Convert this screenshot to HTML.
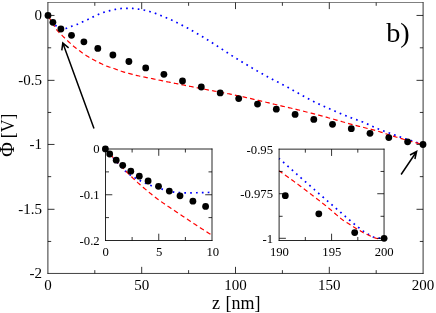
<!DOCTYPE html>
<html><head><meta charset="utf-8"><title>plot</title>
<style>
html,body{margin:0;padding:0;background:#fff;overflow:hidden;}
svg{display:block;opacity:0.999;will-change:transform;}
text{font-family:"Liberation Serif",serif;fill:#000;}
</style></head><body>
<svg width="436" height="313" viewBox="0 0 436 313">
<rect x="0" y="0" width="436" height="313" fill="#fff"/>

<path d="M47.90,15.45 L48.84,16.71 L49.78,17.96 L50.72,19.19 L51.66,20.41 L52.60,21.62 L53.54,22.83 L54.48,24.04 L55.42,25.13 L56.36,26.15 L57.30,27.08 L58.24,27.84 L59.18,28.41 L60.12,28.93 L61.06,29.26 L62.01,29.28 L62.95,29.17 L63.89,29.02 L64.83,28.81 L65.77,28.52 L66.71,28.20 L67.65,27.87 L68.59,27.52 L69.53,27.15 L70.47,26.77 L71.41,26.40 L72.35,26.04 L73.29,25.71 L74.23,25.38 L75.17,25.05 L76.11,24.71 L77.05,24.36 L77.99,23.98 L78.93,23.57 L79.87,23.13 L80.81,22.68 L81.75,22.23 L82.69,21.79 L83.63,21.37 L84.57,20.96 L85.51,20.55 L86.45,20.14 L87.39,19.72 L88.34,19.28 L89.28,18.82 L90.22,18.34 L91.16,17.84 L92.10,17.35 L93.04,16.88 L93.98,16.42 L94.92,15.98 L95.86,15.54 L96.80,15.12 L97.74,14.71 L98.68,14.31 L99.62,13.92 L100.56,13.54 L101.50,13.17 L102.44,12.81 L103.38,12.47 L104.32,12.16 L105.26,11.87 L106.20,11.60 L107.14,11.34 L108.08,11.09 L109.02,10.85 L109.96,10.61 L110.90,10.37 L111.84,10.14 L112.78,9.91 L113.72,9.70 L114.66,9.50 L115.61,9.32 L116.55,9.15 L117.49,8.99 L118.43,8.83 L119.37,8.70 L120.31,8.59 L121.25,8.51 L122.19,8.46 L123.13,8.41 L124.07,8.37 L125.01,8.34 L125.95,8.31 L126.89,8.30 L127.83,8.30 L128.77,8.32 L129.71,8.35 L130.65,8.38 L131.59,8.42 L132.53,8.47 L133.47,8.52 L134.41,8.60 L135.35,8.70 L136.29,8.82 L137.23,8.96 L138.17,9.09 L139.11,9.23 L140.05,9.37 L140.99,9.52 L141.94,9.68 L142.88,9.85 L143.82,10.04 L144.76,10.23 L145.70,10.45 L146.64,10.70 L147.58,10.96 L148.52,11.23 L149.46,11.51 L150.40,11.79 L151.34,12.07 L152.28,12.35 L153.22,12.64 L154.16,12.94 L155.10,13.26 L156.04,13.59 L156.98,13.93 L157.92,14.30 L158.86,14.68 L159.80,15.07 L160.74,15.45 L161.68,15.84 L162.62,16.23 L163.56,16.62 L164.50,17.01 L165.44,17.41 L166.38,17.81 L167.32,18.21 L168.26,18.61 L169.21,19.01 L170.15,19.42 L171.09,19.84 L172.03,20.27 L172.97,20.71 L173.91,21.16 L174.85,21.63 L175.79,22.10 L176.73,22.57 L177.67,23.03 L178.61,23.50 L179.55,23.96 L180.49,24.43 L181.43,24.91 L182.37,25.38 L183.31,25.87 L184.25,26.36 L185.19,26.85 L186.13,27.35 L187.07,27.86 L188.01,28.37 L188.95,28.89 L189.89,29.42 L190.83,29.94 L191.77,30.48 L192.71,31.01 L193.65,31.55 L194.59,32.09 L195.54,32.64 L196.48,33.18 L197.42,33.74 L198.36,34.29 L199.30,34.85 L200.24,35.40 L201.18,35.97 L202.12,36.53 L203.06,37.10 L204.00,37.66 L204.94,38.24 L205.88,38.81 L206.82,39.38 L207.76,39.96 L208.70,40.54 L209.64,41.13 L210.58,41.72 L211.52,42.32 L212.46,42.92 L213.40,43.52 L214.34,44.13 L215.28,44.75 L216.22,45.36 L217.16,45.98 L218.10,46.60 L219.04,47.22 L219.98,47.84 L220.92,48.46 L221.86,49.09 L222.81,49.71 L223.75,50.33 L224.69,50.95 L225.63,51.57 L226.57,52.19 L227.51,52.81 L228.45,53.42 L229.39,54.03 L230.33,54.64 L231.27,55.25 L232.21,55.85 L233.15,56.44 L234.09,57.03 L235.03,57.62 L235.97,58.20 L236.91,58.78 L237.85,59.36 L238.79,59.94 L239.73,60.52 L240.67,61.09 L241.61,61.67 L242.55,62.24 L243.49,62.81 L244.43,63.38 L245.37,63.95 L246.31,64.51 L247.25,65.08 L248.19,65.64 L249.14,66.20 L250.08,66.76 L251.02,67.32 L251.96,67.87 L252.90,68.43 L253.84,68.98 L254.78,69.53 L255.72,70.07 L256.66,70.62 L257.60,71.16 L258.54,71.70 L259.48,72.24 L260.42,72.77 L261.36,73.30 L262.30,73.83 L263.24,74.36 L264.18,74.88 L265.12,75.40 L266.06,75.91 L267.00,76.42 L267.94,76.93 L268.88,77.43 L269.82,77.93 L270.76,78.42 L271.70,78.92 L272.64,79.41 L273.58,79.90 L274.52,80.39 L275.46,80.88 L276.41,81.37 L277.35,81.86 L278.29,82.35 L279.23,82.84 L280.17,83.32 L281.11,83.81 L282.05,84.31 L282.99,84.80 L283.93,85.29 L284.87,85.79 L285.81,86.29 L286.75,86.79 L287.69,87.29 L288.63,87.80 L289.57,88.31 L290.51,88.83 L291.45,89.35 L292.39,89.87 L293.33,90.40 L294.27,90.94 L295.21,91.47 L296.15,92.01 L297.09,92.55 L298.03,93.08 L298.97,93.62 L299.91,94.15 L300.85,94.68 L301.79,95.20 L302.74,95.71 L303.68,96.22 L304.62,96.73 L305.56,97.24 L306.50,97.74 L307.44,98.25 L308.38,98.75 L309.32,99.25 L310.26,99.74 L311.20,100.23 L312.14,100.72 L313.08,101.20 L314.02,101.67 L314.96,102.14 L315.90,102.60 L316.84,103.06 L317.78,103.51 L318.72,103.95 L319.66,104.39 L320.60,104.82 L321.54,105.25 L322.48,105.67 L323.42,106.10 L324.36,106.52 L325.30,106.93 L326.24,107.35 L327.18,107.76 L328.12,108.17 L329.06,108.58 L330.01,108.99 L330.95,109.40 L331.89,109.81 L332.83,110.22 L333.77,110.63 L334.71,111.04 L335.65,111.44 L336.59,111.85 L337.53,112.26 L338.47,112.66 L339.41,113.07 L340.35,113.47 L341.29,113.87 L342.23,114.26 L343.17,114.66 L344.11,115.05 L345.05,115.43 L345.99,115.82 L346.93,116.20 L347.87,116.57 L348.81,116.94 L349.75,117.30 L350.69,117.65 L351.63,117.99 L352.57,118.33 L353.51,118.67 L354.45,119.00 L355.39,119.33 L356.34,119.66 L357.28,120.00 L358.22,120.33 L359.16,120.67 L360.10,121.01 L361.04,121.36 L361.98,121.72 L362.92,122.08 L363.86,122.46 L364.80,122.85 L365.74,123.26 L366.68,123.68 L367.62,124.11 L368.56,124.56 L369.50,125.00 L370.44,125.45 L371.38,125.90 L372.32,126.35 L373.26,126.79 L374.20,127.22 L375.14,127.63 L376.08,128.03 L377.02,128.42 L377.96,128.80 L378.90,129.18 L379.84,129.55 L380.78,129.92 L381.72,130.28 L382.66,130.64 L383.61,130.99 L384.55,131.34 L385.49,131.69 L386.43,132.04 L387.37,132.38 L388.31,132.72 L389.25,133.07 L390.19,133.41 L391.13,133.75 L392.07,134.09 L393.01,134.43 L393.95,134.77 L394.89,135.10 L395.83,135.44 L396.77,135.77 L397.71,136.11 L398.65,136.44 L399.59,136.77 L400.53,137.09 L401.47,137.42 L402.41,137.74 L403.35,138.07 L404.29,138.39 L405.23,138.71 L406.17,139.02 L407.11,139.34 L408.05,139.65 L408.99,139.96 L409.94,140.27 L410.88,140.58 L411.82,140.89 L412.76,141.20 L413.70,141.50 L414.64,141.80 L415.58,142.10 L416.52,142.40 L417.46,142.70 L418.40,143.00 L419.34,143.29 L420.28,143.58 L421.22,143.87 L422.16,144.16 L423.10,144.45" stroke="#0000ff" stroke-width="1.7" stroke-dasharray="1.7 4.15" stroke-dashoffset="-0.5" fill="none"/>
<path d="M47.90,15.45 L48.84,17.06 L49.78,18.65 L50.72,20.21 L51.66,21.75 L52.60,23.28 L53.54,24.85 L54.48,26.40 L55.42,27.89 L56.36,29.29 L57.30,30.53 L58.24,31.64 L59.18,32.66 L60.12,33.61 L61.06,34.53 L62.01,35.43 L62.95,36.35 L63.89,37.27 L64.83,38.18 L65.77,39.07 L66.71,39.95 L67.65,40.83 L68.59,41.70 L69.53,42.57 L70.47,43.43 L71.41,44.30 L72.35,45.15 L73.29,45.98 L74.23,46.78 L75.17,47.54 L76.11,48.28 L77.05,48.99 L77.99,49.69 L78.93,50.39 L79.87,51.08 L80.81,51.77 L81.75,52.46 L82.69,53.13 L83.63,53.77 L84.57,54.41 L85.51,55.04 L86.45,55.65 L87.39,56.25 L88.34,56.83 L89.28,57.40 L90.22,57.95 L91.16,58.48 L92.10,59.01 L93.04,59.51 L93.98,60.00 L94.92,60.49 L95.86,60.97 L96.80,61.45 L97.74,61.95 L98.68,62.44 L99.62,62.91 L100.56,63.37 L101.50,63.83 L102.44,64.28 L103.38,64.73 L104.32,65.15 L105.26,65.56 L106.20,65.94 L107.14,66.29 L108.08,66.63 L109.02,66.95 L109.96,67.25 L110.90,67.56 L111.84,67.85 L112.78,68.16 L113.72,68.47 L114.66,68.79 L115.61,69.13 L116.55,69.48 L117.49,69.83 L118.43,70.19 L119.37,70.55 L120.31,70.89 L121.25,71.22 L122.19,71.53 L123.13,71.82 L124.07,72.10 L125.01,72.38 L125.95,72.66 L126.89,72.93 L127.83,73.19 L128.77,73.45 L129.71,73.70 L130.65,73.95 L131.59,74.19 L132.53,74.43 L133.47,74.66 L134.41,74.90 L135.35,75.13 L136.29,75.35 L137.23,75.57 L138.17,75.79 L139.11,76.01 L140.05,76.22 L140.99,76.43 L141.94,76.63 L142.88,76.83 L143.82,77.02 L144.76,77.21 L145.70,77.40 L146.64,77.59 L147.58,77.78 L148.52,77.96 L149.46,78.15 L150.40,78.34 L151.34,78.52 L152.28,78.71 L153.22,78.90 L154.16,79.09 L155.10,79.28 L156.04,79.48 L156.98,79.67 L157.92,79.86 L158.86,80.06 L159.80,80.25 L160.74,80.44 L161.68,80.63 L162.62,80.83 L163.56,81.02 L164.50,81.21 L165.44,81.40 L166.38,81.59 L167.32,81.79 L168.26,81.98 L169.21,82.17 L170.15,82.36 L171.09,82.55 L172.03,82.74 L172.97,82.93 L173.91,83.12 L174.85,83.31 L175.79,83.50 L176.73,83.69 L177.67,83.88 L178.61,84.07 L179.55,84.26 L180.49,84.45 L181.43,84.64 L182.37,84.83 L183.31,85.02 L184.25,85.21 L185.19,85.40 L186.13,85.59 L187.07,85.78 L188.01,85.96 L188.95,86.15 L189.89,86.34 L190.83,86.53 L191.77,86.71 L192.71,86.90 L193.65,87.09 L194.59,87.28 L195.54,87.46 L196.48,87.65 L197.42,87.84 L198.36,88.02 L199.30,88.21 L200.24,88.40 L201.18,88.58 L202.12,88.77 L203.06,88.95 L204.00,89.14 L204.94,89.32 L205.88,89.50 L206.82,89.69 L207.76,89.87 L208.70,90.05 L209.64,90.23 L210.58,90.41 L211.52,90.59 L212.46,90.76 L213.40,90.94 L214.34,91.11 L215.28,91.28 L216.22,91.45 L217.16,91.62 L218.10,91.80 L219.04,91.97 L219.98,92.14 L220.92,92.31 L221.86,92.48 L222.81,92.66 L223.75,92.83 L224.69,93.01 L225.63,93.19 L226.57,93.38 L227.51,93.56 L228.45,93.75 L229.39,93.94 L230.33,94.13 L231.27,94.32 L232.21,94.52 L233.15,94.71 L234.09,94.91 L235.03,95.11 L235.97,95.31 L236.91,95.51 L237.85,95.71 L238.79,95.91 L239.73,96.12 L240.67,96.32 L241.61,96.53 L242.55,96.73 L243.49,96.94 L244.43,97.15 L245.37,97.36 L246.31,97.58 L247.25,97.79 L248.19,98.01 L249.14,98.23 L250.08,98.45 L251.02,98.67 L251.96,98.89 L252.90,99.11 L253.84,99.33 L254.78,99.55 L255.72,99.78 L256.66,100.00 L257.60,100.22 L258.54,100.45 L259.48,100.67 L260.42,100.90 L261.36,101.12 L262.30,101.34 L263.24,101.57 L264.18,101.79 L265.12,102.02 L266.06,102.24 L267.00,102.47 L267.94,102.70 L268.88,102.92 L269.82,103.15 L270.76,103.38 L271.70,103.61 L272.64,103.83 L273.58,104.06 L274.52,104.29 L275.46,104.52 L276.41,104.74 L277.35,104.97 L278.29,105.19 L279.23,105.42 L280.17,105.64 L281.11,105.86 L282.05,106.08 L282.99,106.30 L283.93,106.52 L284.87,106.73 L285.81,106.95 L286.75,107.17 L287.69,107.38 L288.63,107.60 L289.57,107.81 L290.51,108.03 L291.45,108.25 L292.39,108.47 L293.33,108.69 L294.27,108.91 L295.21,109.13 L296.15,109.35 L297.09,109.58 L298.03,109.81 L298.97,110.04 L299.91,110.28 L300.85,110.51 L301.79,110.75 L302.74,110.99 L303.68,111.23 L304.62,111.47 L305.56,111.72 L306.50,111.96 L307.44,112.21 L308.38,112.46 L309.32,112.70 L310.26,112.95 L311.20,113.20 L312.14,113.45 L313.08,113.70 L314.02,113.95 L314.96,114.20 L315.90,114.45 L316.84,114.70 L317.78,114.94 L318.72,115.19 L319.66,115.44 L320.60,115.69 L321.54,115.94 L322.48,116.19 L323.42,116.44 L324.36,116.70 L325.30,116.95 L326.24,117.20 L327.18,117.45 L328.12,117.71 L329.06,117.97 L330.01,118.22 L330.95,118.48 L331.89,118.74 L332.83,119.00 L333.77,119.27 L334.71,119.53 L335.65,119.80 L336.59,120.07 L337.53,120.34 L338.47,120.62 L339.41,120.89 L340.35,121.16 L341.29,121.44 L342.23,121.71 L343.17,121.98 L344.11,122.25 L345.05,122.52 L345.99,122.79 L346.93,123.05 L347.87,123.31 L348.81,123.57 L349.75,123.82 L350.69,124.08 L351.63,124.33 L352.57,124.58 L353.51,124.83 L354.45,125.07 L355.39,125.32 L356.34,125.57 L357.28,125.81 L358.22,126.06 L359.16,126.30 L360.10,126.54 L361.04,126.78 L361.98,127.03 L362.92,127.27 L363.86,127.51 L364.80,127.75 L365.74,127.99 L366.68,128.22 L367.62,128.46 L368.56,128.69 L369.50,128.92 L370.44,129.15 L371.38,129.38 L372.32,129.62 L373.26,129.86 L374.20,130.11 L375.14,130.36 L376.08,130.62 L377.02,130.90 L377.96,131.18 L378.90,131.46 L379.84,131.76 L380.78,132.06 L381.72,132.37 L382.66,132.68 L383.61,133.00 L384.55,133.31 L385.49,133.63 L386.43,133.95 L387.37,134.26 L388.31,134.58 L389.25,134.89 L390.19,135.19 L391.13,135.49 L392.07,135.79 L393.01,136.08 L393.95,136.37 L394.89,136.66 L395.83,136.95 L396.77,137.24 L397.71,137.53 L398.65,137.81 L399.59,138.10 L400.53,138.38 L401.47,138.66 L402.41,138.94 L403.35,139.22 L404.29,139.49 L405.23,139.76 L406.17,140.03 L407.11,140.30 L408.05,140.56 L408.99,140.82 L409.94,141.08 L410.88,141.33 L411.82,141.58 L412.76,141.84 L413.70,142.08 L414.64,142.33 L415.58,142.58 L416.52,142.82 L417.46,143.06 L418.40,143.30 L419.34,143.53 L420.28,143.76 L421.22,144.00 L422.16,144.22 L423.10,144.45" stroke="#ff0000" stroke-width="1.2" stroke-dasharray="4.66 3.12" stroke-dashoffset="-0.7" fill="none"/>
<path d="M47.9,2.25 V273.825" stroke="#000" stroke-width="0.8"/><path d="M423.1,2.25 V273.825" stroke="#000" stroke-width="0.8"/><path d="M47.5,2.5 H423.5" stroke="#000" stroke-width="0.5"/><path d="M47.5,273.45 H423.5" stroke="#000" stroke-width="0.75"/>
<path d="M141.70,273.45 v-6.6 M141.70,2.5 v6.6 M235.50,273.45 v-6.6 M235.50,2.5 v6.6 M329.30,273.45 v-6.6 M329.30,2.5 v6.6 M94.80,273.45 v-3.3 M94.80,2.5 v3.3 M188.60,273.45 v-3.3 M188.60,2.5 v3.3 M282.40,273.45 v-3.3 M282.40,2.5 v3.3 M376.20,273.45 v-3.3 M376.20,2.5 v3.3 M47.9,15.45 h6.6 M423.1,15.45 h-6.6 M47.9,80.35 h6.6 M423.1,80.35 h-6.6 M47.9,144.45 h6.6 M423.1,144.45 h-6.6 M47.9,209.30 h6.6 M423.1,209.30 h-6.6 M47.9,47.80 h3.3 M423.1,47.80 h-3.3 M47.9,112.45 h3.3 M423.1,112.45 h-3.3 M47.9,176.65 h3.3 M423.1,176.65 h-3.3 M47.9,241.45 h3.3 M423.1,241.45 h-3.3" stroke="#000" stroke-width="0.8" fill="none"/>
<circle cx="48.0" cy="15.4" r="3.4" fill="#000"/>
<circle cx="52.9" cy="22.3" r="3.4" fill="#000"/>
<circle cx="60.9" cy="29.0" r="3.4" fill="#000"/>
<circle cx="71.5" cy="35.3" r="3.4" fill="#000"/>
<circle cx="83.9" cy="41.8" r="3.4" fill="#000"/>
<circle cx="97.8" cy="48.4" r="3.4" fill="#000"/>
<circle cx="112.9" cy="55.0" r="3.4" fill="#000"/>
<circle cx="128.9" cy="61.5" r="3.4" fill="#000"/>
<circle cx="145.7" cy="67.9" r="3.4" fill="#000"/>
<circle cx="163.9" cy="74.3" r="3.4" fill="#000"/>
<circle cx="182.5" cy="81.0" r="3.4" fill="#000"/>
<circle cx="201.3" cy="87.0" r="3.4" fill="#000"/>
<circle cx="220.2" cy="92.9" r="3.4" fill="#000"/>
<circle cx="238.7" cy="98.6" r="3.4" fill="#000"/>
<circle cx="257.5" cy="104.1" r="3.4" fill="#000"/>
<circle cx="276.3" cy="109.2" r="3.4" fill="#000"/>
<circle cx="295.1" cy="114.4" r="3.4" fill="#000"/>
<circle cx="313.8" cy="119.4" r="3.4" fill="#000"/>
<circle cx="332.5" cy="124.3" r="3.4" fill="#000"/>
<circle cx="351.3" cy="128.7" r="3.4" fill="#000"/>
<circle cx="370.0" cy="133.3" r="3.4" fill="#000"/>
<circle cx="388.8" cy="137.6" r="3.4" fill="#000"/>
<circle cx="407.6" cy="141.8" r="3.4" fill="#000"/>
<circle cx="423.0" cy="144.5" r="3.4" fill="#000"/>
<rect x="105.5" y="149.0" width="106.5" height="91.5" fill="#fff" stroke="none"/>
<path d="M105.70,148.80 L106.24,149.48 L106.78,150.16 L107.31,150.83 L107.85,151.50 L108.39,152.17 L108.93,152.83 L109.47,153.49 L110.01,154.14 L110.54,154.79 L111.08,155.44 L111.62,156.08 L112.16,156.71 L112.70,157.35 L113.23,157.97 L113.77,158.60 L114.31,159.21 L114.85,159.83 L115.39,160.44 L115.93,161.05 L116.46,161.66 L117.00,162.28 L117.54,162.89 L118.08,163.49 L118.62,164.10 L119.15,164.70 L119.69,165.29 L120.23,165.88 L120.77,166.46 L121.31,167.04 L121.85,167.60 L122.38,168.16 L122.92,168.71 L123.46,169.24 L124.00,169.76 L124.54,170.27 L125.07,170.77 L125.61,171.25 L126.15,171.72 L126.69,172.19 L127.23,172.64 L127.77,173.08 L128.30,173.51 L128.84,173.93 L129.38,174.33 L129.92,174.73 L130.46,175.11 L130.99,175.48 L131.53,175.84 L132.07,176.19 L132.61,176.53 L133.15,176.86 L133.69,177.18 L134.22,177.50 L134.76,177.81 L135.30,178.11 L135.84,178.41 L136.38,178.71 L136.92,178.99 L137.45,179.27 L137.99,179.55 L138.53,179.82 L139.07,180.09 L139.61,180.36 L140.14,180.62 L140.68,180.89 L141.22,181.15 L141.76,181.42 L142.30,181.68 L142.84,181.94 L143.37,182.20 L143.91,182.47 L144.45,182.72 L144.99,182.98 L145.53,183.23 L146.06,183.49 L146.60,183.73 L147.14,183.98 L147.68,184.22 L148.22,184.45 L148.76,184.68 L149.29,184.90 L149.83,185.12 L150.37,185.33 L150.91,185.54 L151.45,185.74 L151.98,185.94 L152.52,186.13 L153.06,186.32 L153.60,186.51 L154.14,186.69 L154.68,186.87 L155.21,187.04 L155.75,187.22 L156.29,187.39 L156.83,187.56 L157.37,187.73 L157.90,187.89 L158.44,188.06 L158.98,188.22 L159.52,188.38 L160.06,188.54 L160.60,188.70 L161.13,188.86 L161.67,189.02 L162.21,189.17 L162.75,189.33 L163.29,189.49 L163.82,189.65 L164.36,189.81 L164.90,189.97 L165.44,190.12 L165.98,190.27 L166.52,190.43 L167.05,190.57 L167.59,190.72 L168.13,190.86 L168.67,190.99 L169.21,191.12 L169.74,191.24 L170.28,191.36 L170.82,191.48 L171.36,191.60 L171.90,191.72 L172.44,191.84 L172.97,191.95 L173.51,192.06 L174.05,192.15 L174.59,192.24 L175.13,192.31 L175.66,192.37 L176.20,192.42 L176.74,192.45 L177.28,192.49 L177.82,192.53 L178.36,192.56 L178.89,192.60 L179.43,192.63 L179.97,192.66 L180.51,192.68 L181.05,192.71 L181.58,192.73 L182.12,192.75 L182.66,192.77 L183.20,192.78 L183.74,192.79 L184.28,192.80 L184.81,192.80 L185.35,192.80 L185.89,192.80 L186.43,192.80 L186.97,192.80 L187.51,192.80 L188.04,192.79 L188.58,192.79 L189.12,192.79 L189.66,192.79 L190.20,192.79 L190.73,192.78 L191.27,192.78 L191.81,192.78 L192.35,192.77 L192.89,192.77 L193.43,192.76 L193.96,192.76 L194.50,192.76 L195.04,192.75 L195.58,192.75 L196.12,192.74 L196.65,192.74 L197.19,192.73 L197.73,192.72 L198.27,192.72 L198.81,192.71 L199.35,192.71 L199.88,192.70 L200.42,192.69 L200.96,192.69 L201.50,192.68 L202.04,192.67 L202.57,192.66 L203.11,192.64 L203.65,192.63 L204.19,192.62 L204.73,192.60 L205.27,192.59 L205.80,192.57 L206.34,192.55 L206.88,192.53 L207.42,192.51 L207.96,192.50 L208.49,192.48 L209.03,192.45 L209.57,192.43 L210.11,192.41 L210.65,192.39 L211.19,192.37 L211.72,192.35 L212.26,192.32 L212.80,192.30" stroke="#0000ff" stroke-width="1.7" stroke-dasharray="1.7 4.15" stroke-dashoffset="0" fill="none"/>
<path d="M105.70,148.80 L106.24,149.46 L106.78,150.12 L107.31,150.78 L107.85,151.43 L108.39,152.08 L108.93,152.73 L109.47,153.37 L110.01,154.00 L110.54,154.64 L111.08,155.26 L111.62,155.88 L112.16,156.49 L112.70,157.10 L113.23,157.71 L113.77,158.32 L114.31,158.92 L114.85,159.52 L115.39,160.11 L115.93,160.71 L116.46,161.30 L117.00,161.88 L117.54,162.47 L118.08,163.05 L118.62,163.63 L119.15,164.21 L119.69,164.78 L120.23,165.35 L120.77,165.92 L121.31,166.49 L121.85,167.05 L122.38,167.61 L122.92,168.17 L123.46,168.72 L124.00,169.28 L124.54,169.83 L125.07,170.38 L125.61,170.92 L126.15,171.47 L126.69,172.01 L127.23,172.55 L127.77,173.08 L128.30,173.62 L128.84,174.15 L129.38,174.68 L129.92,175.21 L130.46,175.74 L130.99,176.26 L131.53,176.78 L132.07,177.30 L132.61,177.82 L133.15,178.33 L133.69,178.84 L134.22,179.35 L134.76,179.85 L135.30,180.36 L135.84,180.86 L136.38,181.35 L136.92,181.85 L137.45,182.34 L137.99,182.83 L138.53,183.32 L139.07,183.80 L139.61,184.28 L140.14,184.75 L140.68,185.22 L141.22,185.69 L141.76,186.16 L142.30,186.62 L142.84,187.08 L143.37,187.54 L143.91,187.99 L144.45,188.45 L144.99,188.90 L145.53,189.35 L146.06,189.80 L146.60,190.24 L147.14,190.69 L147.68,191.13 L148.22,191.58 L148.76,192.02 L149.29,192.47 L149.83,192.91 L150.37,193.36 L150.91,193.80 L151.45,194.24 L151.98,194.68 L152.52,195.11 L153.06,195.55 L153.60,195.98 L154.14,196.41 L154.68,196.84 L155.21,197.26 L155.75,197.67 L156.29,198.09 L156.83,198.50 L157.37,198.90 L157.90,199.30 L158.44,199.69 L158.98,200.09 L159.52,200.48 L160.06,200.86 L160.60,201.24 L161.13,201.62 L161.67,202.00 L162.21,202.37 L162.75,202.75 L163.29,203.12 L163.82,203.48 L164.36,203.85 L164.90,204.22 L165.44,204.58 L165.98,204.94 L166.52,205.30 L167.05,205.66 L167.59,206.02 L168.13,206.38 L168.67,206.74 L169.21,207.10 L169.74,207.45 L170.28,207.81 L170.82,208.17 L171.36,208.53 L171.90,208.89 L172.44,209.25 L172.97,209.61 L173.51,209.97 L174.05,210.33 L174.59,210.70 L175.13,211.06 L175.66,211.43 L176.20,211.79 L176.74,212.15 L177.28,212.51 L177.82,212.88 L178.36,213.24 L178.89,213.60 L179.43,213.97 L179.97,214.33 L180.51,214.69 L181.05,215.05 L181.58,215.41 L182.12,215.77 L182.66,216.14 L183.20,216.50 L183.74,216.86 L184.28,217.22 L184.81,217.58 L185.35,217.94 L185.89,218.30 L186.43,218.66 L186.97,219.01 L187.51,219.37 L188.04,219.73 L188.58,220.09 L189.12,220.45 L189.66,220.80 L190.20,221.16 L190.73,221.52 L191.27,221.88 L191.81,222.23 L192.35,222.59 L192.89,222.94 L193.43,223.30 L193.96,223.65 L194.50,224.01 L195.04,224.36 L195.58,224.71 L196.12,225.07 L196.65,225.42 L197.19,225.77 L197.73,226.12 L198.27,226.48 L198.81,226.83 L199.35,227.18 L199.88,227.53 L200.42,227.88 L200.96,228.23 L201.50,228.57 L202.04,228.92 L202.57,229.27 L203.11,229.62 L203.65,229.96 L204.19,230.31 L204.73,230.66 L205.27,231.00 L205.80,231.35 L206.34,231.69 L206.88,232.04 L207.42,232.38 L207.96,232.72 L208.49,233.07 L209.03,233.41 L209.57,233.75 L210.11,234.09 L210.65,234.44 L211.19,234.78 L211.72,235.12 L212.26,235.46 L212.80,235.80" stroke="#ff0000" stroke-width="1.2" stroke-dasharray="4.66 3.12" stroke-dashoffset="1.0" fill="none"/>
<path d="M105.5,148.575 V240.925" stroke="#000" stroke-width="0.85"/><path d="M212.0,148.575 V240.925" stroke="#000" stroke-width="0.85"/><path d="M105.075,149.0 H212.425" stroke="#000" stroke-width="0.85"/><path d="M105.075,240.5 H212.425" stroke="#000" stroke-width="0.85"/>
<path d="M158.75,240.5 v-6.8 M158.75,149.0 v6.8 M132.12,240.5 v-3.5 M132.12,149.0 v3.5 M185.38,240.5 v-3.5 M185.38,149.0 v3.5 M105.5,194.75 h6.8 M212.0,194.75 h-6.8 M105.5,171.88 h3.5 M212.0,171.88 h-3.5 M105.5,217.62 h3.5 M212.0,217.62 h-3.5" stroke="#000" stroke-width="0.8" fill="none"/>
<circle cx="105.4" cy="148.9" r="3.4" fill="#000"/>
<circle cx="109.7" cy="154.0" r="3.4" fill="#000"/>
<circle cx="116.2" cy="160.2" r="3.4" fill="#000"/>
<circle cx="122.7" cy="165.3" r="3.4" fill="#000"/>
<circle cx="130.8" cy="171.2" r="3.4" fill="#000"/>
<circle cx="139.3" cy="176.2" r="3.4" fill="#000"/>
<circle cx="148.1" cy="181.0" r="3.4" fill="#000"/>
<circle cx="158.5" cy="186.3" r="3.4" fill="#000"/>
<circle cx="169.3" cy="191.1" r="3.4" fill="#000"/>
<circle cx="180.0" cy="195.8" r="3.4" fill="#000"/>
<circle cx="192.9" cy="201.2" r="3.4" fill="#000"/>
<circle cx="205.6" cy="206.4" r="3.4" fill="#000"/>
<rect x="279.1" y="149.15" width="104.94999999999999" height="91.35" fill="#fff" stroke="none"/>
<path d="M279.10,158.50 L279.63,158.97 L280.15,159.44 L280.68,159.91 L281.21,160.38 L281.74,160.85 L282.26,161.32 L282.79,161.79 L283.32,162.25 L283.85,162.72 L284.37,163.19 L284.90,163.66 L285.43,164.13 L285.96,164.60 L286.48,165.06 L287.01,165.53 L287.54,166.00 L288.07,166.47 L288.59,166.93 L289.12,167.40 L289.65,167.87 L290.18,168.33 L290.70,168.80 L291.23,169.26 L291.76,169.73 L292.28,170.20 L292.81,170.66 L293.34,171.13 L293.87,171.59 L294.39,172.06 L294.92,172.52 L295.45,172.99 L295.98,173.45 L296.50,173.92 L297.03,174.38 L297.56,174.85 L298.09,175.31 L298.61,175.78 L299.14,176.24 L299.67,176.70 L300.20,177.17 L300.72,177.63 L301.25,178.09 L301.78,178.56 L302.31,179.02 L302.83,179.48 L303.36,179.95 L303.89,180.41 L304.41,180.87 L304.94,181.34 L305.47,181.80 L306.00,182.26 L306.52,182.72 L307.05,183.19 L307.58,183.65 L308.11,184.11 L308.63,184.57 L309.16,185.03 L309.69,185.49 L310.22,185.96 L310.74,186.42 L311.27,186.88 L311.80,187.34 L312.33,187.80 L312.85,188.26 L313.38,188.72 L313.91,189.18 L314.43,189.64 L314.96,190.10 L315.49,190.57 L316.02,191.03 L316.54,191.49 L317.07,191.95 L317.60,192.41 L318.13,192.87 L318.65,193.33 L319.18,193.79 L319.71,194.25 L320.24,194.71 L320.76,195.17 L321.29,195.62 L321.82,196.08 L322.35,196.54 L322.87,197.00 L323.40,197.45 L323.93,197.91 L324.46,198.37 L324.98,198.82 L325.51,199.28 L326.04,199.74 L326.56,200.19 L327.09,200.65 L327.62,201.10 L328.15,201.56 L328.67,202.02 L329.20,202.47 L329.73,202.93 L330.26,203.38 L330.78,203.84 L331.31,204.30 L331.84,204.75 L332.37,205.21 L332.89,205.67 L333.42,206.12 L333.95,206.58 L334.48,207.04 L335.00,207.49 L335.53,207.95 L336.06,208.41 L336.59,208.86 L337.11,209.32 L337.64,209.78 L338.17,210.23 L338.69,210.69 L339.22,211.14 L339.75,211.60 L340.28,212.06 L340.80,212.51 L341.33,212.97 L341.86,213.42 L342.39,213.87 L342.91,214.33 L343.44,214.79 L343.97,215.24 L344.50,215.70 L345.02,216.16 L345.55,216.61 L346.08,217.07 L346.61,217.53 L347.13,217.99 L347.66,218.44 L348.19,218.90 L348.72,219.35 L349.24,219.81 L349.77,220.26 L350.30,220.71 L350.82,221.16 L351.35,221.61 L351.88,222.05 L352.41,222.49 L352.93,222.93 L353.46,223.37 L353.99,223.80 L354.52,224.23 L355.04,224.66 L355.57,225.08 L356.10,225.50 L356.63,225.92 L357.15,226.34 L357.68,226.76 L358.21,227.18 L358.74,227.59 L359.26,228.01 L359.79,228.43 L360.32,228.85 L360.84,229.28 L361.37,229.70 L361.90,230.12 L362.43,230.53 L362.95,230.93 L363.48,231.31 L364.01,231.67 L364.54,232.03 L365.06,232.37 L365.59,232.71 L366.12,233.03 L366.65,233.35 L367.17,233.67 L367.70,233.97 L368.23,234.27 L368.76,234.57 L369.28,234.86 L369.81,235.16 L370.34,235.47 L370.87,235.78 L371.39,236.07 L371.92,236.36 L372.45,236.62 L372.97,236.86 L373.50,237.05 L374.03,237.21 L374.56,237.34 L375.08,237.46 L375.61,237.58 L376.14,237.70 L376.67,237.80 L377.19,237.89 L377.72,237.98 L378.25,238.05 L378.78,238.11 L379.30,238.16 L379.83,238.19 L380.36,238.21 L380.89,238.23 L381.41,238.25 L381.94,238.27 L382.47,238.28 L383.00,238.29 L383.52,238.30 L384.05,238.30" stroke="#0000ff" stroke-width="1.7" stroke-dasharray="1.7 4.15" stroke-dashoffset="0.6" fill="none"/>
<path d="M279.10,170.80 L279.63,171.17 L280.15,171.54 L280.68,171.90 L281.21,172.27 L281.74,172.65 L282.26,173.02 L282.79,173.39 L283.32,173.76 L283.85,174.14 L284.37,174.51 L284.90,174.89 L285.43,175.26 L285.96,175.64 L286.48,176.02 L287.01,176.39 L287.54,176.77 L288.07,177.15 L288.59,177.53 L289.12,177.91 L289.65,178.29 L290.18,178.68 L290.70,179.06 L291.23,179.44 L291.76,179.83 L292.28,180.21 L292.81,180.60 L293.34,180.99 L293.87,181.37 L294.39,181.76 L294.92,182.15 L295.45,182.54 L295.98,182.93 L296.50,183.32 L297.03,183.71 L297.56,184.10 L298.09,184.49 L298.61,184.88 L299.14,185.28 L299.67,185.67 L300.20,186.06 L300.72,186.46 L301.25,186.85 L301.78,187.25 L302.31,187.64 L302.83,188.04 L303.36,188.44 L303.89,188.84 L304.41,189.23 L304.94,189.63 L305.47,190.03 L306.00,190.43 L306.52,190.83 L307.05,191.23 L307.58,191.63 L308.11,192.04 L308.63,192.44 L309.16,192.84 L309.69,193.24 L310.22,193.65 L310.74,194.05 L311.27,194.45 L311.80,194.86 L312.33,195.26 L312.85,195.67 L313.38,196.08 L313.91,196.48 L314.43,196.89 L314.96,197.30 L315.49,197.70 L316.02,198.11 L316.54,198.52 L317.07,198.93 L317.60,199.34 L318.13,199.74 L318.65,200.15 L319.18,200.56 L319.71,200.97 L320.24,201.38 L320.76,201.80 L321.29,202.21 L321.82,202.62 L322.35,203.04 L322.87,203.46 L323.40,203.88 L323.93,204.30 L324.46,204.72 L324.98,205.14 L325.51,205.56 L326.04,205.99 L326.56,206.41 L327.09,206.84 L327.62,207.27 L328.15,207.70 L328.67,208.13 L329.20,208.56 L329.73,208.99 L330.26,209.42 L330.78,209.86 L331.31,210.29 L331.84,210.73 L332.37,211.18 L332.89,211.63 L333.42,212.09 L333.95,212.56 L334.48,213.02 L335.00,213.49 L335.53,213.96 L336.06,214.43 L336.59,214.89 L337.11,215.36 L337.64,215.82 L338.17,216.28 L338.69,216.73 L339.22,217.18 L339.75,217.61 L340.28,218.05 L340.80,218.47 L341.33,218.88 L341.86,219.28 L342.39,219.66 L342.91,220.04 L343.44,220.40 L343.97,220.75 L344.50,221.09 L345.02,221.43 L345.55,221.76 L346.08,222.09 L346.61,222.42 L347.13,222.75 L347.66,223.08 L348.19,223.42 L348.72,223.76 L349.24,224.11 L349.77,224.45 L350.30,224.79 L350.82,225.14 L351.35,225.48 L351.88,225.82 L352.41,226.16 L352.93,226.49 L353.46,226.83 L353.99,227.15 L354.52,227.48 L355.04,227.80 L355.57,228.11 L356.10,228.41 L356.63,228.71 L357.15,229.00 L357.68,229.30 L358.21,229.60 L358.74,229.90 L359.26,230.20 L359.79,230.51 L360.32,230.84 L360.84,231.18 L361.37,231.52 L361.90,231.86 L362.43,232.20 L362.95,232.53 L363.48,232.85 L364.01,233.15 L364.54,233.42 L365.06,233.67 L365.59,233.91 L366.12,234.13 L366.65,234.35 L367.17,234.56 L367.70,234.77 L368.23,234.99 L368.76,235.21 L369.28,235.44 L369.81,235.68 L370.34,235.94 L370.87,236.21 L371.39,236.48 L371.92,236.74 L372.45,236.99 L372.97,237.22 L373.50,237.43 L374.03,237.61 L374.56,237.77 L375.08,237.94 L375.61,238.11 L376.14,238.26 L376.67,238.40 L377.19,238.52 L377.72,238.62 L378.25,238.68 L378.78,238.70 L379.30,238.70 L379.83,238.70 L380.36,238.69 L380.89,238.67 L381.41,238.65 L381.94,238.61 L382.47,238.56 L383.00,238.50 L383.52,238.41 L384.05,238.30" stroke="#ff0000" stroke-width="1.2" stroke-dasharray="4.66 3.12" stroke-dashoffset="0.6" fill="none"/>
<path d="M279.1,148.725 V240.925" stroke="#000" stroke-width="0.85"/><path d="M384.05,148.725 V240.925" stroke="#000" stroke-width="0.85"/><path d="M278.675,149.15 H384.475" stroke="#000" stroke-width="0.85"/><path d="M278.675,240.5 H384.475" stroke="#000" stroke-width="0.85"/>
<path d="M331.58,240.5 v-6.8 M331.58,149.15 v6.8 M305.34,240.5 v-3.5 M305.34,149.15 v3.5 M357.81,240.5 v-3.5 M357.81,149.15 v3.5 M279.1,193.73 h6.8 M384.05,193.73 h-6.8 M279.1,238.30 h6.8 M384.05,238.30 h-6.8 M279.1,171.44 h3.5 M384.05,171.44 h-3.5 M279.1,216.30 h3.5 M384.05,216.30 h-3.5" stroke="#000" stroke-width="0.8" fill="none"/>
<circle cx="285.3" cy="195.7" r="3.4" fill="#000"/>
<circle cx="318.8" cy="213.8" r="3.4" fill="#000"/>
<circle cx="354.7" cy="232.6" r="3.4" fill="#000"/>
<circle cx="384.1" cy="238.3" r="3.4" fill="#000"/>
<path d="M94.0,128.5 L62.8,42.9 M61.8,50.3 L62.8,42.9 L68.6,47.9" stroke="#000" stroke-width="1.5" fill="none" stroke-linejoin="miter"/>
<path d="M401.1,174.5 L416.6,151.5 M410.0,155.0 L416.6,151.5 L414.9,159.0" stroke="#000" stroke-width="1.5" fill="none" stroke-linejoin="miter"/>
<text x="42.0" y="20.4" font-size="15" text-anchor="end" >0</text>
<text x="42.0" y="85.0" font-size="15" text-anchor="end" >-0.5</text>
<text x="42.0" y="149.4" font-size="15" text-anchor="end" >-1</text>
<text x="42.0" y="213.9" font-size="15" text-anchor="end" >-1.5</text>
<text x="42.0" y="278.4" font-size="15" text-anchor="end" >-2</text>
<text x="47.9" y="290.0" font-size="15" text-anchor="middle" >0</text>
<text x="141.7" y="290.0" font-size="15" text-anchor="middle" >50</text>
<text x="235.5" y="290.0" font-size="15" text-anchor="middle" >100</text>
<text x="329.3" y="290.0" font-size="15" text-anchor="middle" >150</text>
<text x="423.1" y="290.0" font-size="15" text-anchor="middle" >200</text>
<text x="236.2" y="308.8" font-size="18" text-anchor="middle" word-spacing="1">z [nm]</text>
<text transform="translate(14.4,149.4) rotate(-90)" font-size="20" text-anchor="middle">&#934;</text>
<text transform="translate(13.8,125.8) rotate(-90)" font-size="17.8" text-anchor="middle">[V]</text>
<text x="386.2" y="41.8" font-size="28.3" text-anchor="start" >b)</text>
<text x="99.7" y="153.10000000000002" font-size="12.7" text-anchor="end" >0</text>
<text x="99.7" y="198.8" font-size="12.7" text-anchor="end" >-0.1</text>
<text x="99.7" y="244.5" font-size="12.7" text-anchor="end" >-0.2</text>
<text x="105.7" y="256.0" font-size="12.7" text-anchor="middle" >0</text>
<text x="159.2" y="256.0" font-size="12.7" text-anchor="middle" >5</text>
<text x="212.8" y="256.0" font-size="12.7" text-anchor="middle" >10</text>
<text x="273.0" y="153.60000000000002" font-size="12.7" text-anchor="end" >-0.95</text>
<text x="273.0" y="198.10000000000002" font-size="12.7" text-anchor="end" >-0.975</text>
<text x="273.0" y="242.5" font-size="12.7" text-anchor="end" >-1</text>
<text x="279.4" y="256.0" font-size="12.7" text-anchor="middle" >190</text>
<text x="331.8" y="256.0" font-size="12.7" text-anchor="middle" >195</text>
<text x="384.2" y="256.0" font-size="12.7" text-anchor="middle" >200</text>
</svg></body></html>
